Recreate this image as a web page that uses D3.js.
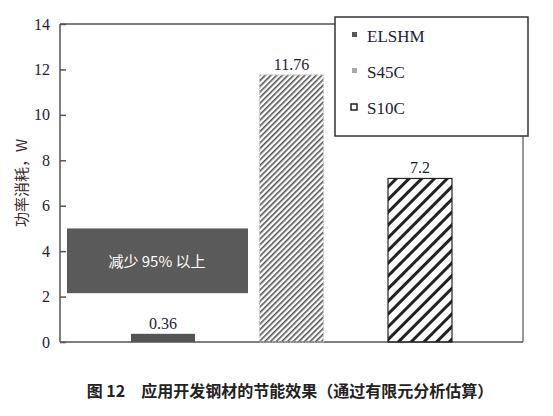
<!DOCTYPE html>
<html><head><meta charset="utf-8">
<script src="https://cdn.jsdelivr.net/npm/d3@7"></script>
<style>body{margin:0;background:#fff}</style>
</head><body>
<svg id="c" width="553" height="416"></svg>
<script>
const categories = ["ELSHM", "S45C", "S10C"];
const values = [0.36, 11.76, 7.2];
const labels = ["0.36", "11.76", "7.2"];
const yTicks = [0, 2, 4, 6, 8, 10, 12, 14];

const svg = d3.select("#c");
const m = {l: 60, r: 523, t: 24, b: 342};
const y = d3.scaleLinear().domain([0, 14]).range([m.b, m.t]);
const x = d3.scaleBand().domain(categories).range([67, 517]).paddingInner(0.98).paddingOuter(0.4);
const bx = d3.scalePoint().domain(categories).range([163, 420]);
const bw = 64;
const txt = "#1c2238", serif = "Liberation Serif, DejaVu Serif, serif";

const defs = svg.append("defs");
defs.append("pattern").attr("id", "p45").attr("patternUnits", "userSpaceOnUse")
  .attr("width", 4).attr("height", 4).attr("patternTransform", "rotate(45)")
  .append("rect").attr("width", 1.6).attr("height", 4).attr("fill", "#555");
defs.append("pattern").attr("id", "p10").attr("patternUnits", "userSpaceOnUse")
  .attr("width", 9).attr("height", 9).attr("patternTransform", "rotate(45)")
  .append("rect").attr("width", 3).attr("height", 9).attr("fill", "#222");

// axes frame
const g = svg.append("g");
g.append("line").attr("x1", m.l).attr("x2", m.l).attr("y1", m.t).attr("y2", m.b).attr("stroke", "#555").attr("stroke-width", 1.5);
g.append("line").attr("x1", m.l).attr("x2", m.r).attr("y1", m.b).attr("y2", m.b).attr("stroke", "#555").attr("stroke-width", 1.5);
g.append("line").attr("x1", m.l).attr("x2", 340).attr("y1", m.t).attr("y2", m.t).attr("stroke", "#555").attr("stroke-width", 1.5);
g.append("line").attr("x1", m.r).attr("x2", m.r).attr("y1", 136).attr("y2", m.b).attr("stroke", "#555").attr("stroke-width", 1.2);

const yAxis = d3.axisLeft(y).tickValues(yTicks).tickSize(-6).tickPadding(10);
const ya = svg.append("g").attr("transform", `translate(${m.l},0)`).call(yAxis);
ya.select(".domain").remove();
ya.selectAll("line").attr("stroke", "#555").attr("stroke-width", 1.5);
ya.selectAll("text").attr("font-family", serif).attr("font-size", 16).attr("fill", txt);

svg.append("text").attr("transform", "translate(27,183) rotate(-90)").attr("text-anchor", "middle")
  .attr("font-family", "Noto Sans CJK SC, serif").attr("font-size", 15).attr("fill", "#3a2a2a")
  .text("功率消耗，W");

// annotation box
svg.append("rect").attr("x", 67).attr("y", y(5)).attr("width", 181).attr("height", y(2.15) - y(5)).attr("fill", "#5a5a5a");
svg.append("text").attr("x", 157).attr("y", (y(5) + y(2.15)) / 2 + 6).attr("text-anchor", "middle")
  .attr("font-family", "Noto Sans CJK SC, serif").attr("font-size", 15).attr("fill", "#fff").text("减少 95% 以上");

const fills = ["#555", "url(#p45)", "url(#p10)"];
const strokes = ["none", "#ccc", "#222"];
svg.selectAll(".bar").data(categories).join("rect")
  .attr("x", d => bx(d) - bw / 2).attr("width", bw)
  .attr("y", (d, i) => y(values[i])).attr("height", (d, i) => m.b - y(values[i]))
  .attr("fill", (d, i) => fills[i]).attr("stroke", (d, i) => strokes[i]).attr("stroke-width", 1.2)
  .attr("stroke-dasharray", (d, i) => i === 1 ? "2,1" : null);
svg.selectAll(".lab").data(categories).join("text")
  .attr("x", d => bx(d)).attr("y", (d, i) => y(values[i]) - 5).attr("text-anchor", "middle")
  .attr("font-family", serif).attr("font-size", 16).attr("fill", txt).text((d, i) => labels[i]);

// legend
const lg = svg.append("g");
lg.append("rect").attr("x", 335).attr("y", 17).attr("width", 193).attr("height", 119).attr("fill", "#fff").attr("stroke", "#333").attr("stroke-width", 1.5);
const lf = ["#555", "#aaa", "#fff"];
categories.forEach((c, i) => {
  const yy = 36 + i * 36;
  if (i === 2) lg.append("rect").attr("x", 351).attr("y", yy - 4).attr("width", 6).attr("height", 6).attr("fill", "#fff").attr("stroke", "#222").attr("stroke-width", 1.5);
  else lg.append("rect").attr("x", 352).attr("y", yy - 4).attr("width", 5).attr("height", 5).attr("fill", lf[i]);
  lg.append("text").attr("x", 367).attr("y", yy + 6).attr("font-family", serif).attr("font-size", 17).attr("fill", txt).text(c);
});

svg.append("text").attr("x", 290).attr("y", 397).attr("text-anchor", "middle")
  .attr("font-family", "Noto Sans CJK SC, sans-serif").attr("font-size", 16).attr("font-weight", "bold").attr("fill", "#222")
  .text("图 12　应用开发钢材的节能效果（通过有限元分析估算）");
</script>
</body></html>
